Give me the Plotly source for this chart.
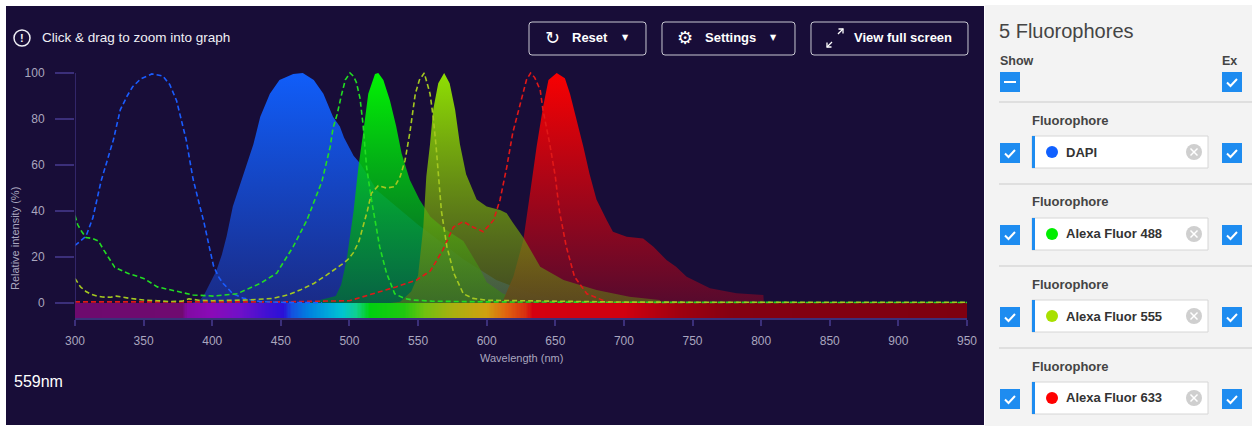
import numpy as np
import plotly.graph_objects as go

# ---------------- data ----------------
dapi_ex_wl = [300, 304, 308, 313, 319, 324, 328, 333, 338, 342, 348, 356, 364, 369, 374, 381, 386, 391,
              394, 398, 401, 405, 408, 415, 423, 435, 450, 480]
dapi_ex = [25, 27, 29, 37, 53, 63, 71, 84, 90, 94, 97.5, 99.6, 98.7, 95, 88, 71, 54, 42,
           35, 24, 16, 11, 8.5, 4, 2, 0.6, 0.3, 0.1]

af488_ex_wl = [300, 302, 305, 308, 313, 317, 321, 325, 329, 338, 350, 360, 369, 386, 401, 418, 435, 447,
               459, 469, 480, 483, 486, 488, 491, 494, 497, 500.4, 503, 505, 507.7, 510, 512.5, 516, 522,
               527, 533, 540, 546, 560, 600, 700, 800, 950]
af488_ex = [38, 34, 31, 28.5, 28, 27, 23, 19, 15.5, 13, 10.7, 7, 5.7, 3.5, 3, 4, 8.5, 13,
            24.5, 36, 53, 61, 68, 76, 82, 90, 97, 100, 98.5, 96, 89, 77, 59, 45, 24.5,
            13, 4, 2, 1.3, 0.8, 0.5, 0.3, 0.2, 0.2]

af555_ex_wl = [300, 302, 304, 308, 311, 316, 320, 326, 330, 340, 350, 360, 369, 378, 383, 386, 390, 400,
               410, 425, 444, 455, 464, 474, 483, 487, 495, 499, 503, 507, 510, 513, 516, 521, 527, 533,
               537, 540.5, 544, 548, 551, 554.5, 558.7, 561, 563, 565, 567, 571, 576, 583, 590, 600,
               700, 800, 950]
af555_ex = [10.7, 9, 7, 5, 4, 3, 2.6, 2.5, 3, 2, 1.3, 1, 0.6, 0.8, 1.8, 1.6, 1.2, 1,
            1, 1.3, 2, 3.5, 5.6, 8.5, 12, 13.6, 17, 19, 22, 27, 33, 40, 47.7, 51, 50, 50.6,
            55, 62, 74, 91, 97, 100, 91, 81, 69, 55, 40, 24.5, 13, 4, 2, 1.2,
            0.4, 0.3, 0.3]

af633_ex_wl = [300, 380, 450, 500, 517, 534, 549, 559, 568, 575.7, 583, 590, 597.5, 605, 609.7, 614.6,
               619, 624, 629, 632, 635, 639, 641, 646, 650, 653, 658, 664, 673, 687, 700]
af633_ex = [0.5, 0.5, 0.5, 1, 4, 7, 10, 14, 23, 33, 35.4, 33, 31, 36, 44.8, 59,
            74, 85, 97, 100, 98, 92.6, 84, 69, 55, 40, 24.5, 11.4, 4, 0.6, 0.3]

dapi_em_wl = [385, 391, 394, 398, 403, 407, 410.5, 415, 421.5, 430, 435, 442, 449, 459, 466, 474, 481,
              486, 488, 493, 496, 503, 508, 520, 534, 550, 559, 583, 607, 632, 650, 670]
dapi_em = [0, 1.3, 3.5, 8, 14, 21, 29, 42, 53.5, 69, 81, 91, 97, 99.6, 100, 97, 91,
           84, 81, 76.7, 72, 64, 60.5, 49, 42, 34, 30, 19, 10, 4.2, 1.5, 0]

af488_em_wl = [470, 476, 490, 494, 498, 503, 506.5, 510, 513.7, 518.6, 521, 524.7, 529.5, 534, 538, 544,
               551, 559, 570, 583, 595, 600, 612, 630, 660]
af488_em = [0, 1, 3, 8, 19, 40, 59, 74, 91, 99.6, 100, 97, 88, 77, 65, 53.5,
            45, 37.5, 32, 27, 15, 9, 4, 1.5, 0]

af555_em_wl = [530, 537, 545, 550, 553.8, 556, 558.7, 561, 564.7, 569, 573, 577, 580.5, 585, 592.7, 600,
               609.7, 614.6, 619, 626.7, 639, 656, 680, 704, 726, 727]
af555_em = [0, 0.5, 5, 12, 33, 55, 69, 84, 95.5, 100, 95.5, 84, 69, 56, 45, 42,
            40.4, 39, 35, 28.5, 15.8, 10, 5.6, 2.7, 1.3, 0]

af633_em_wl = [600, 612, 619.4, 626.7, 631.6, 636.4, 641, 645, 651, 657, 660.7, 665.6, 670.4, 675, 680,
               687.5, 692, 702, 714, 721.5, 731, 738, 745.7, 762.7, 782, 801.6, 802]
af633_em = [0, 1.3, 11.4, 27.4, 47.7, 68, 85, 97, 100, 97.7, 91, 79.6, 68, 56, 45,
            36, 31, 28.8, 28, 24.5, 18.7, 15.8, 11.4, 6.4, 4.2, 3.5, 0]

# visible-spectrum bar colour stops
bar_wl = [300, 378, 382, 400, 420, 440, 452, 458, 470, 485, 495, 505, 515, 540, 555, 575, 600, 615, 628,
          634, 700, 740, 780, 950]
bar_colors = ["#6e0a6e", "#700a70", "#820aa4", "#8a0ab8", "#7010c8", "#4010d2", "#2a10d8", "#1450e0",
              "#0080e0", "#00a8da", "#00c4d0", "#10d090", "#00d010", "#20c810", "#70c010", "#a8b010",
              "#d0a010", "#e06010", "#d83010", "#d40010", "#d00010", "#a00010", "#840012", "#7e0010"]

x_ticks = [300, 350, 400, 450, 500, 550, 600, 650, 700, 750, 800, 850, 900, 950]
y_ticks = [0, 20, 40, 60, 80, 100]

fluor_names = ["DAPI", "Alexa Fluor 488", "Alexa Fluor 555", "Alexa Fluor 633"]
fluor_dots = ["#1060ff", "#00ee00", "#a8e000", "#ff0000"]

# ---------------- geometry helpers ----------------
W, H = 1252, 426
L, R, T, B = 75, 967, 64, 318
BG = "#180d38"
AX = "#3b2f7a"
TICKC = "#aaa6bf"
FONT = "Liberation Sans, Arial, sans-serif"
BLUE = "#1e8cf0"


def px(x):
    return (x - L) / (R - L)


def py(y):
    return (B - y) / (B - T)


shapes = []
annots = []


def rect(x0, y0, x1, y1, fill=None, line=None, lw=1, layer="above"):
    shapes.append(dict(type="rect", xref="paper", yref="paper", x0=px(x0), x1=px(x1), y0=py(y1), y1=py(y0),
                       fillcolor=fill if fill else "rgba(0,0,0,0)",
                       line=dict(color=line, width=lw) if line else dict(width=0), layer=layer))


def circle(cx, cy, r, fill=None, line=None, lw=1):
    shapes.append(dict(type="circle", xref="paper", yref="paper", x0=px(cx - r), x1=px(cx + r),
                       y0=py(cy + r), y1=py(cy - r), fillcolor=fill if fill else "rgba(0,0,0,0)",
                       line=dict(color=line, width=lw) if line else dict(width=0)))


def path(pts, color, lw=1.5, closed=False, fill=None):
    s = "M " + " L ".join(f"{px(a):.5f},{py(b):.5f}" for a, b in pts)
    if closed:
        s += " Z"
    shapes.append(dict(type="path", xref="paper", yref="paper", path=s,
                       line=dict(color=color, width=lw), fillcolor=fill if fill else "rgba(0,0,0,0)"))


def rrect(x0, y0, x1, y1, r, color, lw=1):
    p = lambda a, b: f"{px(a):.5f},{py(b):.5f}"
    s = (f"M {p(x0 + r, y0)} L {p(x1 - r, y0)} Q {p(x1, y0)} {p(x1, y0 + r)} L {p(x1, y1 - r)} "
         f"Q {p(x1, y1)} {p(x1 - r, y1)} L {p(x0 + r, y1)} Q {p(x0, y1)} {p(x0, y1 - r)} "
         f"L {p(x0, y0 + r)} Q {p(x0, y0)} {p(x0 + r, y0)} Z")
    shapes.append(dict(type="path", xref="paper", yref="paper", path=s, line=dict(color=color, width=lw)))


def txt(x, y, s, size=12, color="#ffffff", bold=False, anchor="left", angle=0, family=FONT):
    annots.append(dict(x=px(x), y=py(y), xref="paper", yref="paper", text=f"<b>{s}</b>" if bold else s,
                       showarrow=False, xanchor=anchor, yanchor="middle", textangle=angle,
                       font=dict(size=size, color=color, family=family), borderpad=0))


# ---------------- figure ----------------
fig = go.Figure()

bar_x = list(range(300, 951))
cs = [[(w - 300) / 650, c] for w, c in zip(bar_wl, bar_colors)]
fig.add_trace(go.Heatmap(z=[bar_x], x=bar_x, y=[-6.52, 0], colorscale=cs, zmin=300, zmax=950,
                         showscale=False, hoverinfo="skip"))

em_specs = [
    (dapi_em_wl, dapi_em, "rgba(26,44,138,0.97)", "rgba(16,96,255,0.97)"),
    (af488_em_wl, af488_em, "rgba(0,120,40,0.72)", "rgba(0,255,0,0.95)"),
    (af633_em_wl, af633_em, "rgba(90,10,45,0.95)", "rgba(255,0,0,0.97)"),
    (af555_em_wl, af555_em, "rgba(95,115,20,0.6)", "rgba(150,235,0,0.95)"),
]
for wl, v, c0, c1 in em_specs:
    fig.add_trace(go.Scatter(x=wl, y=v, mode="lines", line=dict(width=0), fill="tozeroy",
                             fillgradient=dict(type="vertical", colorscale=[[0, c0], [1, c1]]),
                             hoverinfo="skip"))

ex_specs = [
    (af633_ex_wl, af633_ex, "#e01818"),
    (dapi_ex_wl, dapi_ex, "#1a5cff"),
    (af488_ex_wl, af488_ex, "#22dd22"),
    (af555_ex_wl, af555_ex, "#a4c820"),
]
for wl, v, c in ex_specs:
    fig.add_trace(go.Scatter(x=wl, y=v, mode="lines", line=dict(color=c, width=1.6, dash="5px,3px"),
                             hoverinfo="skip"))

# backgrounds
rect(6, 6, 984, 425, fill=BG, layer="below")
rect(985, 5, 1252, 426, fill="#f3f3f3", layer="below")

# y axis line
shapes.append(dict(type="line", xref="x", yref="y", x0=300, x1=300, y0=0, y1=100,
                   line=dict(color=AX, width=1.5)))

# axis titles
txt(521, 358, "Wavelength (nm)", size=11, color=TICKC, anchor="center")
txt(15, 239, "Relative intensity (%)", size=11, color=TICKC, anchor="center", angle=-90)

# top-left hint
circle(22, 38, 8, line="#f0f0f5", lw=1.5)
txt(22, 38, "!", size=11, color="#f0f0f5", bold=True, anchor="center")
txt(41, 38, "Click &amp; drag to zoom into graph", size=13.5, color="#f0f0f5")

# buttons
rrect(529, 22, 646, 55, 3, "#c8c8d2")
txt(552, 38, "↻", size=18, color="#ffffff", anchor="center", family="DejaVu Sans")
txt(571, 38, "Reset", size=13, bold=True)
txt(625, 38, "▼", size=8, color="#ffffff", anchor="center", family="DejaVu Sans")

rrect(662, 22, 795, 55, 3, "#c8c8d2")
txt(685, 38, "⚙", size=18, color="#ffffff", anchor="center", family="DejaVu Sans")
txt(704, 38, "Settings", size=13, bold=True)
txt(773, 38, "▼", size=8, color="#ffffff", anchor="center", family="DejaVu Sans")

rrect(811, 22, 968, 55, 3, "#c8c8d2")
path([(827, 47), (832, 42)], "#ffffff", 1.3)
path([(827, 42.5), (827, 47), (831.5, 47)], "#ffffff", 1.3)
path([(838, 34), (843, 29)], "#ffffff", 1.3)
path([(838.5, 29), (843, 29), (843, 33.5)], "#ffffff", 1.3)
txt(853, 38, "View full screen", size=13, bold=True)

# wavelength readout
txt(13, 381, "559nm", size=16, color="#ffffff")

# right panel
txt(998, 31, "5 Fluorophores", size=20, color="#444444")
txt(999, 61, "Show", size=12.5, color="#444444", bold=True)
txt(1221, 61, "Ex", size=12.5, color="#444444", bold=True)


def checkbox(x, y, kind="check"):
    rect(x, y, x + 20, y + 20, fill=BLUE)
    if kind == "check":
        path([(x + 5, y + 10.5), (x + 8.5, y + 14), (x + 15, y + 7)], "#ffffff", 2)
    else:
        path([(x + 4, y + 10), (x + 16, y + 10)], "#ffffff", 2)


checkbox(1000, 72, "minus")
checkbox(1222, 72, "check")

for i, (name, dc) in enumerate(zip(fluor_names, fluor_dots)):
    sep = 102 + 82 * i
    path([(999, sep), (1252, sep)], "#d9d9d9", 1.5)
    ly = 120 + 82 * i
    txt(1031, ly, "Fluorophore", size=13, color="#444444", bold=True)
    by0, by1 = ly + 16, ly + 48
    rect(1032, by0, 1208, by1, fill="#ffffff", line="#d6d6d6", lw=1)
    rect(1032, by0, 1035, by1, fill=BLUE)
    circle(1052, (by0 + by1) / 2, 6, fill=dc)
    txt(1065, (by0 + by1) / 2, name, size=13, color="#333333", bold=True)
    cx, cy = 1194, (by0 + by1) / 2
    circle(cx, cy, 8, fill="#cfcfcf")
    path([(cx - 3.5, cy - 3.5), (cx + 3.5, cy + 3.5)], "#ffffff", 1.5)
    path([(cx - 3.5, cy + 3.5), (cx + 3.5, cy - 3.5)], "#ffffff", 1.5)
    checkbox(1000, ly + 23, "check")
    checkbox(1222, ly + 23, "check")

fig.update_layout(
    width=W, height=H,
    margin=dict(l=L, r=W - R, t=T, b=H - B, pad=0),
    paper_bgcolor="#ffffff", plot_bgcolor=BG,
    showlegend=False,
    shapes=shapes, annotations=annots,
    font=dict(family=FONT),
    xaxis=dict(range=[300, 950], tickvals=x_ticks, ticks="outside", ticklen=6, tickwidth=1.5,
               tickcolor=AX, showline=True, linecolor=AX, linewidth=1.5, showgrid=False,
               zeroline=False, tickfont=dict(size=12, color=TICKC, family=FONT), ticklabelstandoff=5,
               fixedrange=True),
    yaxis=dict(range=[-6.52, 103.91], tickvals=y_ticks, ticks="outside", ticklen=19, tickwidth=1.5,
               tickcolor=AX, showline=False, showgrid=False, zeroline=False,
               tickfont=dict(size=12, color=TICKC, family=FONT), ticklabelstandoff=8, fixedrange=True),
)

fig.write_html("out.html", config={"displayModeBar": False},
               post_script="document.body.style.margin='0px';document.body.style.overflow='hidden';")
